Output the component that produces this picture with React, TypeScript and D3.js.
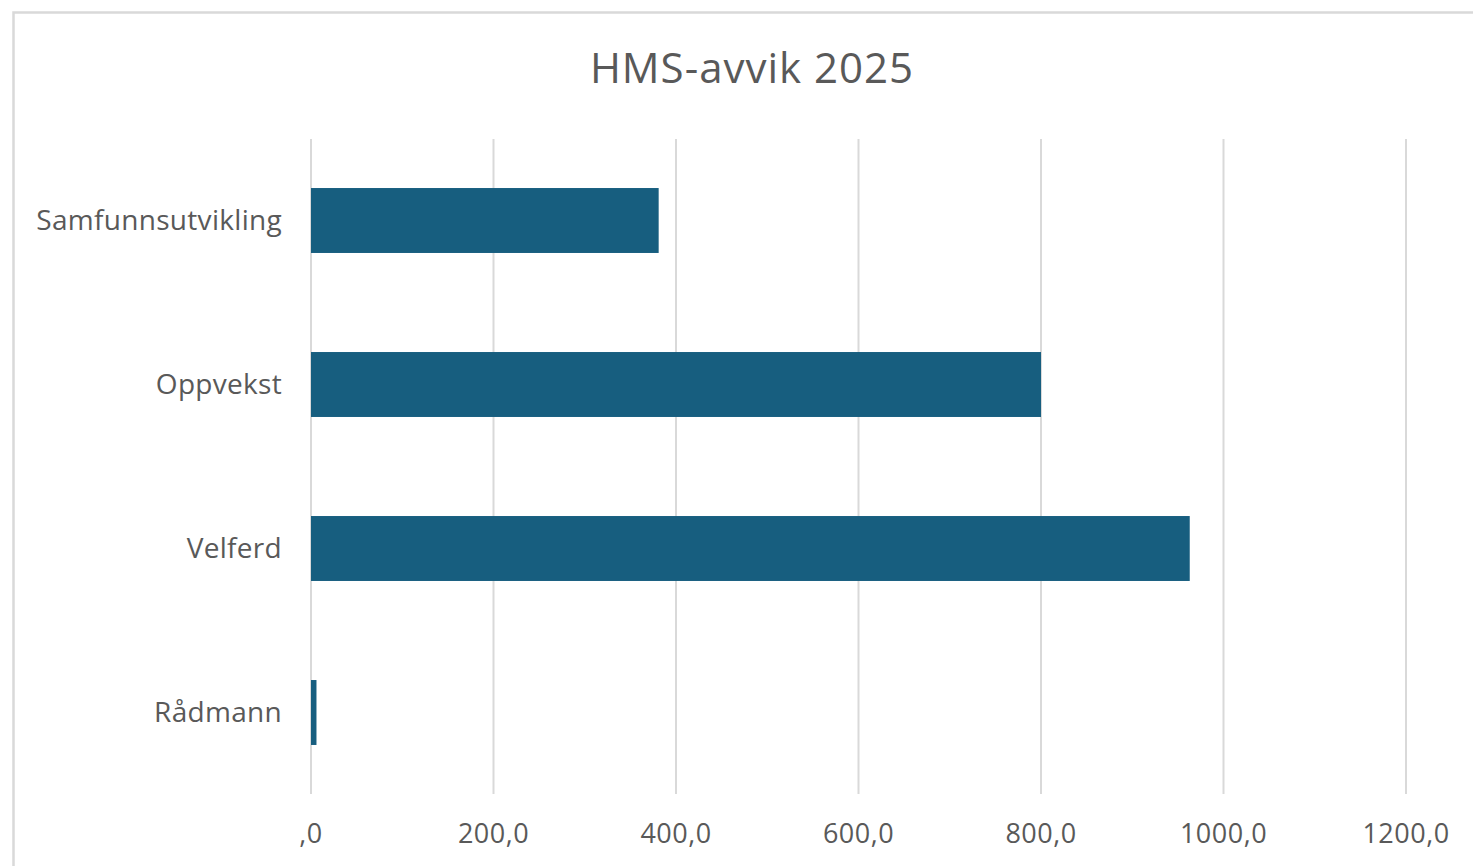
import React from "react";
import * as d3 from "d3";

const categories = ["Samfunnsutvikling", "Oppvekst", "Velferd", "Rådmann"];
const values = [381, 800, 963, 6];
const ticks = [0, 200, 400, 600, 800, 1000, 1200];
const tickLabels = [",0", "200,0", "400,0", "600,0", "800,0", "1000,0", "1200,0"];
const title = "HMS-avvik 2025";

const W = 1473;
const H = 866;
const FONT = "'Open Sans', 'Noto Sans', sans-serif";

export default function App() {
  const x = d3.scaleLinear().domain([0, 1200]).range([311, 1406]);
  const y = d3
    .scaleBand<string>()
    .domain(categories)
    .range([138.5, 794.5])
    .paddingInner(0.604)
    .paddingOuter(0.302);

  return (
    <svg
      width={W}
      height={H}
      style={{ position: "absolute", left: 0, top: 0, background: "#fff" }}
    >
      <rect x={0} y={0} width={W} height={H} fill="#fff" />
      <rect
        x={13.5}
        y={12.5}
        width={W + 20}
        height={H + 20}
        fill="#fff"
        stroke="#d9d9d9"
        strokeWidth={2.5}
      />
      <text
        x={752}
        y={66}
        textAnchor="middle"
        dominantBaseline="central"
        fontFamily={FONT}
        fontSize={42}
        letterSpacing={1}
        fill="#595959"
      >
        {title}
      </text>
      {ticks.map((t) => (
        <line
          key={t}
          x1={x(t)}
          x2={x(t)}
          y1={139}
          y2={794}
          stroke="#d9d9d9"
          strokeWidth={2}
        />
      ))}
      {categories.map((c, i) => (
        <rect
          key={c}
          x={x(0)}
          y={y(c)!}
          width={x(values[i]) - x(0)}
          height={y.bandwidth()}
          fill="#175e7f"
        />
      ))}
      {categories.map((c) => (
        <text
          key={c}
          x={282}
          y={y(c)! + y.bandwidth() / 2 - 2}
          textAnchor="end"
          dominantBaseline="central"
          fontFamily={FONT}
          fontSize={28}
          letterSpacing={0.3}
          fill="#595959"
        >
          {c}
        </text>
      ))}
      {ticks.map((t, i) => (
        <text
          key={t}
          x={x(t)}
          y={832}
          textAnchor="middle"
          dominantBaseline="central"
          fontFamily={FONT}
          fontSize={27}
          letterSpacing={0.5}
          fill="#595959"
        >
          {tickLabels[i]}
        </text>
      ))}
    </svg>
  );
}
